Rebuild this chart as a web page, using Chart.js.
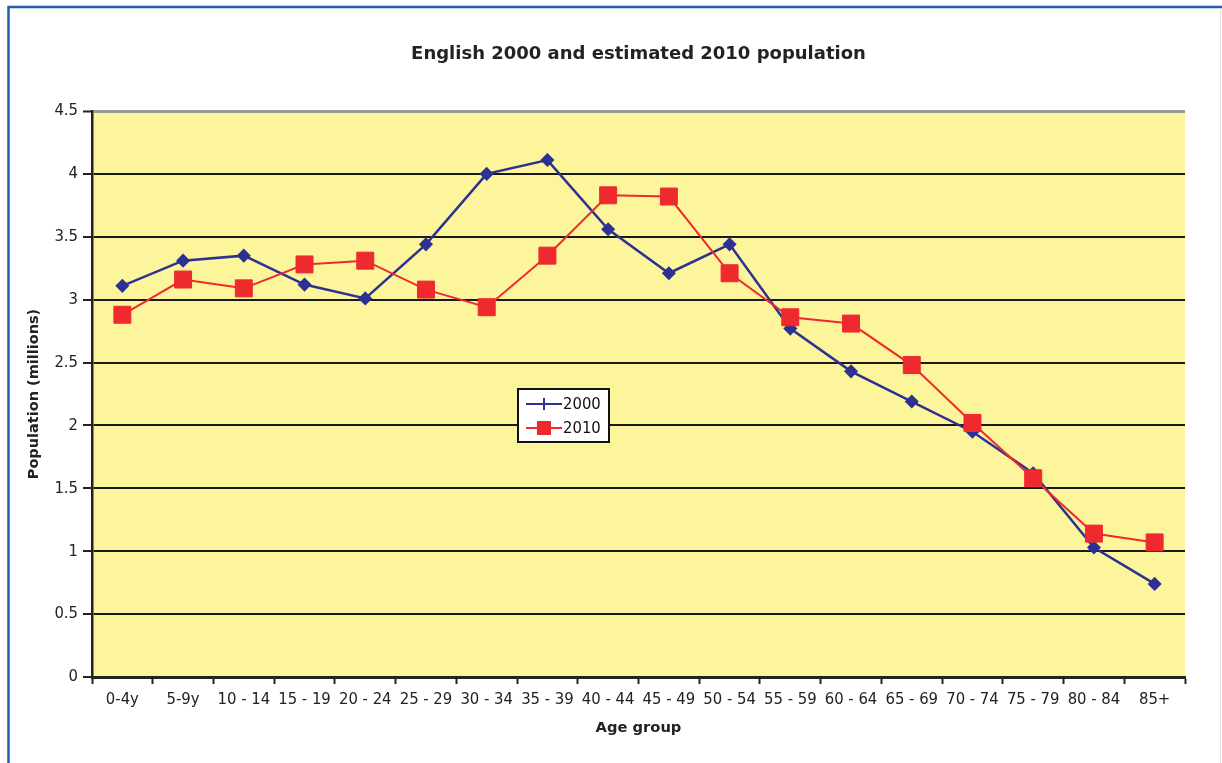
<!DOCTYPE html>
<html>
<head>
<meta charset="utf-8">
<script src="https://cdn.jsdelivr.net/npm/chart.js@4.4.1/dist/chart.umd.min.js"></script>
<style>
  html, body { margin: 0; padding: 0; background: #ffffff; }
  #wrap { width: 1222px; height: 763px; position: relative; }
</style>
</head>
<body>
<div id="wrap"><canvas id="chart" width="1222" height="763"></canvas></div>
<script>
// Age bands on the horizontal axis
const ageGroups = ['0-4y', '5-9y', '10 - 14', '15 - 19', '20 - 24', '25 - 29', '30 - 34',
  '35 - 39', '40 - 44', '45 - 49', '50 - 54', '55 - 59', '60 - 64', '65 - 69',
  '70 - 74', '75 - 79', '80 - 84', '85+'];

// Population in millions per age band
const population2000 = [3.11, 3.31, 3.35, 3.12, 3.01, 3.44, 4.00, 4.11, 3.56, 3.21,
  3.44, 2.77, 2.43, 2.19, 1.95, 1.62, 1.03, 0.74];
const population2010 = [2.88, 3.16, 3.09, 3.28, 3.31, 3.08, 2.94, 3.35, 3.83, 3.82,
  3.21, 2.86, 2.81, 2.48, 2.02, 1.58, 1.14, 1.07];

// Series names and value-axis range
const seriesNames = ['2000', '2010'];
const yMin = 0, yMax = 4.5, yStep = 0.5;

const BLUE = '#2E3192';
const RED = '#EE2A2E';
const FONT = '"DejaVu Sans", Verdana, sans-serif';
const TICK_FONT = '"DejaVu Sans Condensed", "DejaVu Sans", Tahoma, sans-serif';

// White page with a blue frame on the top and left edges
const framePlugin = {
  id: 'frame',
  beforeDraw(chart) {
    const ctx = chart.ctx;
    ctx.save();
    ctx.fillStyle = '#ffffff';
    ctx.fillRect(0, 0, chart.width, chart.height);
    ctx.strokeStyle = '#1F5FAD';
    ctx.lineWidth = 2.5;
    ctx.beginPath();
    ctx.moveTo(8.5, chart.height);
    ctx.lineTo(8.5, 7);
    ctx.lineTo(chart.width, 7);
    ctx.stroke();
    ctx.strokeStyle = '#e4e4e4';
    ctx.lineWidth = 1;
    ctx.beginPath();
    ctx.moveTo(1220.5, 8);
    ctx.lineTo(1220.5, chart.height);
    ctx.stroke();
    ctx.restore();
  }
};

// Pale yellow plot background
const plotBgPlugin = {
  id: 'plotBg',
  beforeDraw(chart) {
    const a = chart.chartArea;
    const ctx = chart.ctx;
    ctx.save();
    ctx.fillStyle = '#FCF59C';
    ctx.fillRect(a.left, a.top, a.right - a.left, a.bottom - a.top);
    ctx.restore();
  }
};

// Boxed legend sitting inside the plot
const boxLegendPlugin = {
  id: 'boxLegend',
  afterDraw(chart, args, opts) {
    const ctx = chart.ctx;
    const x = opts.x, y = opts.y, w = opts.w, h = opts.h;
    ctx.save();
    ctx.fillStyle = '#ffffff';
    ctx.fillRect(x, y, w, h);
    ctx.strokeStyle = '#111111';
    ctx.lineWidth = 2;
    ctx.strokeRect(x, y, w, h);
    chart.data.datasets.forEach((ds, i) => {
      const cy = y + 15 + i * 24;
      const lx0 = x + 8, lx1 = x + 44, cx = (lx0 + lx1) / 2;
      ctx.strokeStyle = ds.borderColor;
      ctx.lineWidth = 2;
      ctx.beginPath();
      ctx.moveTo(lx0, cy);
      ctx.lineTo(lx1, cy);
      ctx.stroke();
      if (opts.marks[i] === 'cross') {
        ctx.lineWidth = 2;
        ctx.beginPath();
        ctx.moveTo(cx, cy - 6);
        ctx.lineTo(cx, cy + 6);
        ctx.stroke();
      } else {
        ctx.fillStyle = ds.pointBackgroundColor;
        ctx.fillRect(cx - 7, cy - 7, 14, 14);
      }
      ctx.fillStyle = '#111111';
      ctx.font = '16.5px ' + TICK_FONT;
      ctx.textBaseline = 'middle';
      ctx.textAlign = 'left';
      ctx.fillText(ds.label, lx1 + 1, cy + 1);
    });
    ctx.restore();
  }
};

new Chart(document.getElementById('chart'), {
  type: 'line',
  data: {
    labels: ageGroups,
    datasets: [
      {
        label: seriesNames[0],
        data: population2000,
        borderColor: BLUE,
        backgroundColor: BLUE,
        pointBackgroundColor: BLUE,
        pointBorderColor: BLUE,
        borderWidth: 2.5,
        pointStyle: 'rectRot',
        pointRadius: 6,
        pointBorderWidth: 1.5,
        tension: 0,
        order: 2
      },
      {
        label: seriesNames[1],
        data: population2010,
        borderColor: RED,
        backgroundColor: RED,
        pointBackgroundColor: RED,
        pointBorderColor: RED,
        borderWidth: 2,
        pointStyle: 'rect',
        pointRadius: 12,
        pointBorderWidth: 1,
        tension: 0,
        order: 1
      }
    ]
  },
  options: {
    responsive: false,
    animation: false,
    layout: { padding: { left: 0, right: 37, top: 0, bottom: 0 } },
    plugins: {
      legend: { display: false },
      tooltip: { enabled: false },
      title: {
        display: true,
        fullSize: false,
        text: 'English 2000 and estimated 2010 population',
        color: '#222222',
        font: { family: FONT, size: 18, weight: 'bold' },
        padding: { top: 44, bottom: 45.4 }
      },
      boxLegend: { x: 518, y: 389, w: 91, h: 53, marks: ['cross', 'rect'] }
    },
    scales: {
      x: {
        offset: true,
        grid: {
          offset: true,
          drawOnChartArea: false,
          drawTicks: true,
          tickLength: 7,
          tickWidth: 2,
          tickColor: '#222222'
        },
        border: { display: true, color: '#222222', width: 3 },
        ticks: {
          color: '#222222',
          font: { family: TICK_FONT, size: 16.5 },
          padding: 6,
          maxRotation: 0,
          autoSkip: false
        },
        title: {
          display: true,
          text: 'Age group',
          color: '#222222',
          font: { family: FONT, size: 14.7, weight: 'bold' },
          padding: 26
        },
        afterFit(scale) { scale.height = 86; }
      },
      y: {
        min: yMin,
        max: yMax,
        ticks: {
          stepSize: yStep,
          color: '#222222',
          font: { family: TICK_FONT, size: 16.5 },
          padding: 5,
          callback: (v) => String(+Number(v).toFixed(1))
        },
        grid: {
          color: (c) => (c.tick && c.tick.value === yMax ? '#9a9a9a' : '#1a1a1a'),
          lineWidth: (c) => (c.tick && c.tick.value === yMax ? 3 : 2),
          tickColor: '#222222',
          tickWidth: 2,
          tickLength: 9
        },
        border: { display: true, color: '#222222', width: 2.5 },
        title: {
          display: true,
          text: 'Population (millions)',
          color: '#222222',
          font: { family: FONT, size: 14.5, weight: 'bold' },
          padding: 26
        },
        afterFit(scale) { scale.width = 92; }
      }
    }
  },
  plugins: [framePlugin, plotBgPlugin, boxLegendPlugin]
});
</script>
</body>
</html>
